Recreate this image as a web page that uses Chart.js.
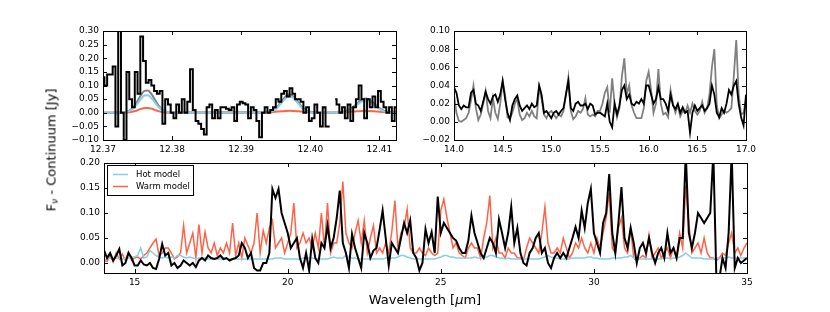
<!DOCTYPE html>
<html>
<head>
<meta charset="utf-8">
<script src="https://cdn.jsdelivr.net/npm/chart.js@4"></script>
<style>
  body { margin: 0; width: 830px; height: 312px; background: #fff; position: relative; overflow: hidden; font-family: "DejaVu Sans", sans-serif; }
  canvas { position: absolute; }
  .lbl { position: absolute; font-size: 13px; color: #000; white-space: nowrap; }
  #ylab { left: 51px; top: 150px; transform: translate(-50%, -50%) rotate(-90deg); }
  #xlab { left: 425px; top: 299px; transform: translate(-50%, -50%); }
  sub { font-size: 70%; vertical-align: -0.25em; line-height: 0; }
</style>
</head>
<body>
<canvas id="cTL" width="370" height="140" style="left:40px;top:21px"></canvas>
<canvas id="cTR" width="360" height="140" style="left:400px;top:21px"></canvas>
<canvas id="cB" width="720" height="145" style="left:40px;top:153px"></canvas>
<div class="lbl" id="ylab">F<sub><i>ν</i></sub> - Continuum [Jy]</div>
<div class="lbl" id="xlab">Wavelength [<i>μ</i>m]</div>
<script>
// ---- top-left panel: 12.37-12.41 um zoom ----
const tlStart = 12.37, tlStep = 0.0004;
const tlObs = [
  0.13, 0.10, 0.14, 0.14, 0.17, -0.05, 0.30, 0.00, -0.10, 0.15,
  0.05, 0.02, 0.15, 0.07, 0.28, 0.19, 0.11, 0.12, 0.10, 0.08,
  0.07, 0.08, -0.04, 0.05, 0.03, 0.00, -0.02, 0.03, 0.00, 0.05,
  0.00, 0.04, 0.16, 0.01, -0.03, -0.04, -0.06, -0.08, 0.02, 0.03,
  -0.02, 0.01, -0.02, 0.02, 0.02, 0.015, 0.01, 0.02, -0.03, 0.03,
  0.04, 0.035, 0.03, -0.02, 0.02, 0.01, -0.03, -0.09, 0.00, 0.02,
  0.00, 0.01, 0.02, 0.05, 0.04, 0.07, 0.08, 0.06, 0.09, 0.07,
  0.05, 0.05, 0.04, 0.00, 0.02, -0.03, -0.02, 0.03, 0.00, -0.05,
  0.02, -0.05, -0.05, null, 0.05, 0.03, 0.00, 0.02, -0.02, 0.03,
  -0.03, 0.02, 0.05, 0.10, 0.05, -0.02, 0.05, 0.02, 0.06, 0.02,
  0.08, 0.04, 0.02, 0.00, 0.02, -0.03, 0.02
];
const tlModelX = [
  12.370, 12.373, 12.374, 12.3745, 12.375, 12.3755, 12.376, 12.3765, 12.377, 12.3775, 12.378, 12.3785, 12.379, 12.380,
  12.393, 12.394, 12.3945, 12.395, 12.3955, 12.396, 12.3965, 12.397, 12.3975, 12.398, 12.3985, 12.399, 12.3995, 12.400, 12.401,
  12.404, 12.4045, 12.405, 12.4055, 12.406, 12.4065, 12.407, 12.4075, 12.408, 12.4085, 12.409, 12.4095, 12.410, 12.4105, 12.411, 12.4115, 12.4124
];
const tlHot = [
  0, 0.001, 0.0088, 0.019, 0.034, 0.051, 0.063, 0.064, 0.054, 0.038, 0.022, 0.0104, 0.0041, 0.0004,
  0.0013, 0.002, 0.0057, 0.013, 0.026, 0.041, 0.055, 0.060, 0.055, 0.041, 0.026, 0.013, 0.0057, 0.002, 0,
  0.0004, 0.0012, 0.0031, 0.0071, 0.0138, 0.023, 0.0335, 0.0418, 0.045, 0.0418, 0.0335, 0.023, 0.0138, 0.0071, 0.0031, 0.0012, 0.0002
];
const tlWarm = [
  0, 0.0003, 0.0024, 0.0053, 0.0094, 0.0141, 0.0174, 0.0177, 0.015, 0.0105, 0.0061, 0.0029, 0.0011, 0.0001,
  0.0004, 0.0015, 0.0024, 0.0035, 0.0047, 0.0059, 0.0067, 0.007, 0.0067, 0.0059, 0.0047, 0.0035, 0.0024, 0.0015, 0.0004,
  0.0004, 0.0008, 0.0015, 0.0024, 0.0035, 0.0047, 0.0059, 0.0067, 0.007, 0.0067, 0.0059, 0.0047, 0.0035, 0.0024, 0.0015, 0.0008, 0.0003
];
const tlTotal = [
  0, 0.0013, 0.0112, 0.0243, 0.0434, 0.0651, 0.0804, 0.0817, 0.069, 0.0485, 0.0281, 0.0133, 0.0052, 0.0005,
  0.0017, 0.0035, 0.0081, 0.0165, 0.0307, 0.0469, 0.0617, 0.067, 0.0617, 0.0469, 0.0307, 0.0165, 0.0081, 0.0035, 0.0004,
  0.0008, 0.002, 0.0046, 0.0095, 0.0173, 0.0277, 0.0394, 0.0485, 0.052, 0.0485, 0.0394, 0.0277, 0.0173, 0.0095, 0.0046, 0.002, 0.0005
];
const tlXTicks = [12.37, 12.38, 12.39, 12.40, 12.41];
const tlYTicks = [-0.10, -0.05, 0.00, 0.05, 0.10, 0.15, 0.20, 0.25, 0.30];

// ---- top-right panel: 14-17 um ----
const trStart = 14.0, trStep = 0.025;
const trObs = [
  0.038, 0.032, 0.018, 0.014, 0.018, 0.016, 0.016, 0.032, 0.035, 0.020,
  0.018, 0.012, 0.022, 0.033, 0.025, 0.020, 0.028, 0.030, 0.022, 0.030,
  0.045, 0.025, 0.010, 0.002, 0.018, 0.025, 0.029, 0.018, 0.012, 0.015,
  0.018, 0.014, 0.020, 0.016, 0.018, 0.040, 0.030, 0.010, 0.012, 0.008,
  0.004, 0.010, 0.012, 0.008, 0.012, 0.015, 0.030, 0.045, 0.015, 0.012,
  0.020, 0.022, 0.018, 0.018, 0.020, 0.014, 0.020, 0.018, 0.008, 0.010,
  0.010, 0.008, 0.006, 0.020, 0.000, -0.006, 0.020, 0.008, 0.018, 0.035,
  0.040, 0.025, 0.030, 0.020, 0.018, 0.022, 0.020, 0.025, 0.020, 0.040,
  0.040, 0.030, 0.020, 0.025, 0.038, 0.025, 0.025, 0.020, 0.012, 0.030,
  0.018, 0.014, 0.020, 0.010, 0.016, 0.010, 0.012, -0.012, 0.010, 0.018,
  0.012, 0.015, 0.018, 0.012, 0.015, 0.020, 0.040, 0.030, 0.010, 0.005,
  0.015, 0.010, 0.020, 0.035, 0.030, 0.040, 0.045, 0.020, 0.005, -0.004,
  0.030
];
const trModel = [
  0.030, 0.010, 0.001, 0.000, 0.002, 0.004, 0.010, 0.024, 0.040, 0.015,
  0.002, 0.008, 0.020, 0.034, 0.012, 0.004, 0.026, 0.010, 0.003, 0.020,
  0.045, 0.030, 0.005, 0.004, 0.010, 0.020, 0.025, 0.008, 0.002, 0.004,
  0.010, 0.006, 0.012, 0.006, 0.004, 0.038, 0.025, 0.008, 0.004, 0.010,
  0.012, 0.008, 0.004, 0.008, 0.006, 0.012, 0.030, 0.049, 0.012, 0.003,
  0.006, 0.012, 0.010, 0.014, 0.026, 0.008, 0.006, 0.008, 0.006, 0.012,
  0.012, 0.020, 0.032, 0.038, 0.010, 0.048, 0.020, 0.005, 0.015, 0.050,
  0.070, 0.030, 0.040, 0.018, 0.010, 0.004, 0.004, 0.004, 0.015, 0.045,
  0.055, 0.035, 0.010, 0.020, 0.058, 0.020, 0.008, 0.010, 0.005, 0.035,
  0.020, 0.010, 0.018, 0.006, 0.012, 0.010, 0.018, 0.010, 0.020, 0.012,
  0.008, 0.012, 0.022, 0.010, 0.015, 0.030, 0.060, 0.080, 0.018, 0.004,
  0.008, 0.012, 0.010, 0.012, 0.015, 0.050, 0.090, 0.030, 0.008, 0.010,
  0.025
];
const trXTicks = [14.0, 14.5, 15.0, 15.5, 16.0, 16.5, 17.0];
const trYTicks = [-0.02, 0.00, 0.02, 0.04, 0.06, 0.08, 0.10];

// ---- bottom panel: 14-35 um ----
const bStart = 14.0, bStep = 0.1;
const bObs = [
  0.025, 0.010, 0.020, 0.005, 0.015, 0.028, -0.005, 0.000, 0.020, 0.010,
  -0.005, -0.005, 0.005, -0.003, -0.005, 0.000, -0.010, -0.012, 0.008, 0.038,
  0.015, 0.020, -0.005, 0.000, -0.010, -0.005, 0.005, 0.000, -0.005, 0.000,
  -0.008, 0.005, 0.010, 0.005, 0.015, 0.010, 0.008, 0.010, 0.015, 0.008,
  0.010, 0.005, 0.008, 0.010, 0.015, 0.040, 0.030, 0.010, 0.020, -0.010,
  -0.015, -0.015, 0.000, 0.000, 0.020, 0.148, 0.130, 0.148, 0.100, 0.080,
  0.060, 0.030, 0.040, 0.050, 0.010, -0.010, 0.020, -0.015, 0.048, 0.010,
  0.000, 0.040, 0.030, 0.075, 0.030, 0.050, 0.090, 0.145, 0.040, 0.020,
  -0.010, 0.058, 0.030, 0.010, -0.010, 0.060, 0.040, 0.010, 0.025, 0.030,
  0.066, 0.105, 0.050, -0.005, 0.040, 0.030, 0.020, 0.050, 0.080, 0.060,
  0.085, 0.020, 0.010, -0.015, 0.000, 0.068, 0.040, 0.062, 0.020, 0.133,
  0.060, 0.080, 0.070, 0.060, 0.050, 0.045, 0.030, 0.020, 0.020, 0.045,
  0.095, 0.060, 0.040, 0.020, 0.010, 0.030, 0.050, 0.040, 0.020, 0.087,
  0.060, 0.030, 0.060, 0.112, 0.040, 0.070, 0.020, 0.000, -0.005, 0.020,
  0.030, 0.050, 0.060, 0.020, 0.030, 0.000, -0.010, 0.010, 0.020, 0.010,
  0.020, 0.010, 0.030, 0.050, 0.072, 0.050, 0.105, 0.070, 0.120, 0.148,
  0.060, 0.040, 0.020, 0.080, 0.100, 0.178, 0.060, 0.020, 0.080, 0.152,
  0.050, 0.030, 0.070, 0.040, 0.000, 0.030, 0.040, 0.020, 0.050, 0.020,
  0.000, 0.020, 0.030, 0.010, 0.060, 0.020, 0.030, 0.010, 0.050, 0.050,
  0.220, 0.060, 0.030, 0.060, 0.100, 0.090, 0.080, 0.090, 0.100, 0.220,
  -0.030, -0.030, 0.010, -0.010, 0.060, 0.220, -0.010, 0.010, 0.000, 0.005,
  0.010
];
const bWarm = [
  0.005, 0.003, 0.015, 0.002, 0.020, 0.008, 0.018, 0.005, 0.022, 0.005,
  0.010, 0.012, 0.008, 0.015, 0.020, 0.030, 0.040, 0.048, 0.015, 0.020,
  0.030, 0.030, 0.020, 0.008, 0.012, 0.020, 0.075, 0.020, 0.040, 0.060,
  0.010, 0.077, 0.020, 0.062, 0.030, 0.020, 0.040, 0.015, 0.030, 0.020,
  0.040, 0.020, 0.080, 0.015, 0.040, 0.010, 0.050, 0.035, 0.020, 0.040,
  0.100, 0.020, 0.065, 0.040, 0.070, 0.085, 0.030, 0.040, 0.050, 0.020,
  0.040, 0.060, 0.120, 0.030, 0.040, 0.060, 0.040, 0.050, 0.030, 0.060,
  0.030, 0.100, 0.030, 0.120, 0.020, 0.040, 0.040, 0.080, 0.163, 0.060,
  0.040, 0.030, 0.060, 0.085, 0.040, 0.085, 0.020, 0.050, 0.075, 0.020,
  0.030, 0.020, 0.040, 0.020, 0.063, 0.125, 0.030, 0.060, 0.070, 0.108,
  0.030, 0.020, 0.020, 0.030, 0.020, 0.015, 0.030, 0.020, 0.015, 0.020,
  0.105, 0.128, 0.090, 0.060, 0.030, 0.040, 0.020, 0.015, 0.010, 0.030,
  0.040, 0.030, 0.030, 0.010, 0.050, 0.080, 0.135, 0.030, 0.050, 0.020,
  0.020, 0.010, 0.030, 0.020, 0.020, 0.010, 0.010, 0.005, 0.030, 0.050,
  0.040, 0.030, 0.020, 0.060, 0.112, 0.040, 0.020, 0.020, 0.030, 0.020,
  0.050, 0.030, 0.010, 0.020, 0.040, 0.030, 0.050, 0.030, 0.020, 0.040,
  0.020, 0.050, 0.030, 0.060, 0.090, 0.140, 0.030, 0.020, 0.070, 0.090,
  0.030, 0.020, 0.070, 0.010, 0.005, 0.010, 0.015, 0.010, 0.056, 0.010,
  0.020, 0.030, 0.010, 0.020, 0.030, 0.010, 0.030, 0.010, 0.060, 0.030,
  0.155, 0.080, 0.020, 0.030, 0.040, 0.020, 0.050, 0.020, 0.010, 0.010,
  0.005, 0.010, 0.020, 0.015, 0.040, 0.060, 0.020, 0.030, 0.015, 0.030,
  0.040
];
const bHot = [
  0.005, 0.008, 0.010, 0.008, 0.010, 0.010, 0.008, 0.010, 0.010, 0.012,
  0.012, 0.015, 0.030, 0.010, 0.012, 0.025, 0.020, 0.015, 0.012, 0.010,
  0.012, 0.010, 0.012, 0.010, 0.015, 0.015, 0.012, 0.010, 0.012, 0.010,
  0.008, 0.010, 0.010, 0.010, 0.008, 0.008, 0.008, 0.008, 0.008, 0.008,
  0.008, 0.008, 0.008, 0.008, 0.008, 0.008, 0.008, 0.008, 0.008, 0.008,
  0.008, 0.008, 0.008, 0.008, 0.008, 0.008, 0.010, 0.010, 0.010, 0.008,
  0.008, 0.008, 0.008, 0.008, 0.008, 0.010, 0.010, 0.010, 0.010, 0.008,
  0.008, 0.008, 0.008, 0.008, 0.010, 0.012, 0.010, 0.010, 0.010, 0.015,
  0.012, 0.010, 0.010, 0.008, 0.008, 0.008, 0.008, 0.008, 0.008, 0.008,
  0.008, 0.008, 0.010, 0.010, 0.010, 0.010, 0.012, 0.015, 0.015, 0.012,
  0.010, 0.008, 0.008, 0.008, 0.008, 0.008, 0.008, 0.008, 0.008, 0.010,
  0.012, 0.015, 0.015, 0.012, 0.012, 0.010, 0.010, 0.010, 0.010, 0.010,
  0.010, 0.012, 0.010, 0.010, 0.010, 0.012, 0.015, 0.015, 0.012, 0.010,
  0.010, 0.008, 0.010, 0.008, 0.008, 0.008, 0.008, 0.008, 0.008, 0.008,
  0.008, 0.008, 0.008, 0.010, 0.012, 0.015, 0.012, 0.010, 0.010, 0.008,
  0.008, 0.008, 0.008, 0.010, 0.010, 0.010, 0.010, 0.010, 0.012, 0.012,
  0.010, 0.010, 0.008, 0.008, 0.008, 0.008, 0.010, 0.010, 0.010, 0.010,
  0.012, 0.012, 0.015, 0.010, 0.008, 0.008, 0.008, 0.008, 0.008, 0.008,
  0.008, 0.008, 0.008, 0.010, 0.010, 0.008, 0.010, 0.010, 0.012, 0.015,
  0.020, 0.015, 0.010, 0.010, 0.010, 0.010, 0.008, 0.008, 0.008, 0.008,
  0.010, 0.010, 0.010, 0.010, 0.012, 0.010, 0.010, 0.010, 0.010, 0.010,
  0.010
];
const bXTicks = [15, 20, 25, 30, 35];
const bYTicks = [0.00, 0.05, 0.10, 0.15, 0.20];
const legendLabels = ['Hot model', 'Warm model'];

const BLUE = '#87ceeb', RED = '#ff6347', GRAY = '#808080';
const FONT = 'DejaVu Sans';

function onGrid(start, step, vals) {
  return vals.map((v, i) => ({ x: start + i * step, y: v }));
}
function pairs(xs, ys) {
  return xs.map((x, i) => ({ x: x, y: ys[i] }));
}
function minus(s) { return s.replace('-', '\u2212'); }

// inward ticks on all four sides plus the frame, matplotlib style
const framePlugin = {
  id: 'frame',
  afterDatasetsDraw(chart) {
    const { ctx, chartArea: a, scales } = chart;
    ctx.save();
    ctx.strokeStyle = '#000';
    ctx.lineWidth = 1;
    ctx.beginPath();
    scales.x.ticks.forEach(t => {
      const p = Math.round(scales.x.getPixelForValue(t.value)) + 0.5;
      ctx.moveTo(p, a.bottom); ctx.lineTo(p, a.bottom - 4);
      ctx.moveTo(p, a.top); ctx.lineTo(p, a.top + 4);
    });
    scales.y.ticks.forEach(t => {
      const p = Math.round(scales.y.getPixelForValue(t.value)) + 0.5;
      ctx.moveTo(a.left, p); ctx.lineTo(a.left + 4, p);
      ctx.moveTo(a.right, p); ctx.lineTo(a.right - 4, p);
    });
    ctx.stroke();
    ctx.strokeRect(Math.round(a.left) + 0.5, Math.round(a.top) + 0.5,
                   Math.round(a.right - a.left), Math.round(a.bottom - a.top));
    ctx.restore();
  }
};

const legendPlugin = {
  id: 'boxLegend',
  afterDraw(chart, args, opts) {
    if (!opts.items) return;
    const { ctx, chartArea: a } = chart;
    const x0 = Math.round(a.left) + 3, y0 = Math.round(a.top) + 2;
    ctx.save();
    ctx.fillStyle = '#fff';
    ctx.fillRect(x0, y0, 86, 30);
    ctx.strokeStyle = '#000';
    ctx.lineWidth = 1;
    ctx.strokeRect(x0 + 0.5, y0 + 0.5, 86, 30);
    ctx.font = '8.5px "' + FONT + '"';
    ctx.textBaseline = 'middle';
    opts.items.forEach((it, k) => {
      const y = y0 + 9.5 + k * 12;
      ctx.strokeStyle = it.color;
      ctx.lineWidth = 1.5;
      ctx.beginPath();
      ctx.moveTo(x0 + 6, y); ctx.lineTo(x0 + 21, y);
      ctx.stroke();
      ctx.fillStyle = '#000';
      ctx.fillText(it.label, x0 + 29, y);
    });
    ctx.restore();
  }
};

function axis(min, max, ticks, fmt, fitProp, fitVal) {
  return {
    type: 'linear',
    min: min,
    max: max,
    afterBuildTicks: s => { s.ticks = ticks.map(v => ({ value: v })); },
    afterFit: s => { s[fitProp] = fitVal; },
    grid: { display: false, drawTicks: false },
    border: { display: false },
    ticks: {
      color: '#000',
      font: { family: FONT, size: 9 },
      padding: 4,
      autoSkip: false,
      maxRotation: 0,
      callback: v => minus(fmt(v))
    }
  };
}

function panel(id, datasets, xAx, yAx, pad, legendItems) {
  return new Chart(document.getElementById(id), {
    type: 'line',
    data: { datasets: datasets },
    options: {
      responsive: false,
      animation: false,
      devicePixelRatio: 1,
      layout: { padding: pad },
      elements: { point: { radius: 0 } },
      scales: { x: xAx, y: yAx },
      plugins: {
        legend: { display: false },
        tooltip: { enabled: false },
        boxLegend: { items: legendItems }
      }
    },
    plugins: [framePlugin, legendPlugin]
  });
}

function line(data, color, width, extra) {
  return Object.assign({ data: data, borderColor: color, borderWidth: width, fill: false, clip: 0, tension: 0 }, extra || {});
}

panel('cTL', [
  line(onGrid(tlStart, tlStep, tlObs), '#000', 2, { stepped: 'middle' }),
  line(pairs(tlModelX, tlHot), BLUE, 2, { cubicInterpolationMode: 'monotone' }),
  line(pairs(tlModelX, tlWarm), RED, 2, { cubicInterpolationMode: 'monotone' }),
  line(pairs(tlModelX, tlTotal), GRAY, 2, { cubicInterpolationMode: 'monotone' })
],
  axis(12.37, 12.4124, tlXTicks, v => v.toFixed(2), 'height', 21),
  axis(-0.10, 0.30, tlYTicks, v => v.toFixed(2), 'width', 63),
  { left: 0, top: 10, right: 14, bottom: 0 }, null);

panel('cTR', [
  line(onGrid(trStart, trStep, trObs), '#000', 1.8),
  line(onGrid(trStart, trStep, trModel), GRAY, 1.8)
],
  axis(14, 17, trXTicks, v => v.toFixed(1), 'height', 21),
  axis(-0.02, 0.10, trYTicks, v => v.toFixed(2), 'width', 54),
  { left: 0, top: 10, right: 13, bottom: 0 }, null);

panel('cB', [
  line(onGrid(bStart, bStep, bObs), '#000', 2),
  line(onGrid(bStart, bStep, bHot), BLUE, 1.5, { label: legendLabels[0] }),
  line(onGrid(bStart, bStep, bWarm), RED, 1.5, { label: legendLabels[1] })
],
  axis(14, 35, bXTicks, v => v.toFixed(0), 'height', 25),
  axis(-0.02, 0.20, bYTicks, v => v.toFixed(2), 'width', 64),
  { left: 0, top: 10, right: 13, bottom: 0 },
  [{ label: legendLabels[0], color: BLUE }, { label: legendLabels[1], color: RED }]);
</script>
</body>
</html>
